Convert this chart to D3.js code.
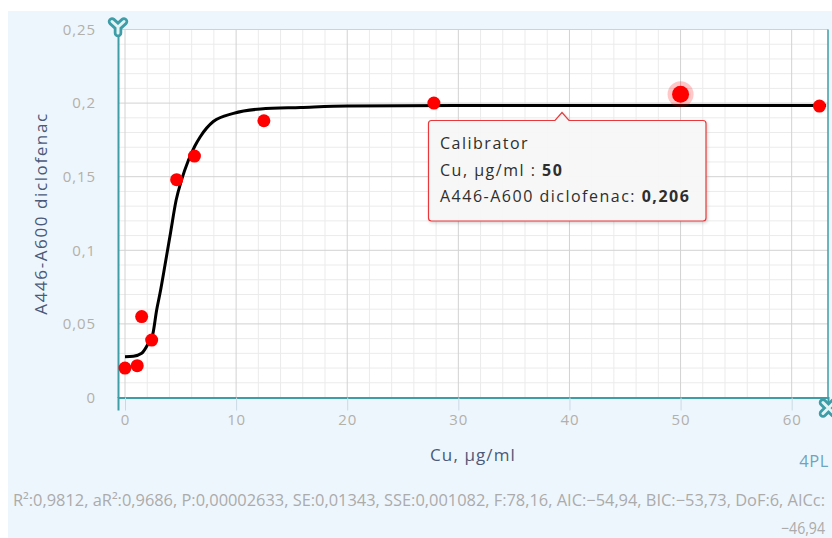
<!DOCTYPE html>
<html>
<head>
<meta charset="utf-8">
<script src="https://cdn.jsdelivr.net/npm/d3@7"></script>
<style>
  body { margin: 0; background: #fff; }
  svg { display: block; }
  text { font-family: "Open Sans", sans-serif; }
</style>
</head>
<body>
<div id="chart"></div>
<script>
// calibrator points
const concentration = [0, 1.1, 1.5, 2.4, 4.65, 6.25, 12.5, 27.8, 50, 62.5];
const absorbance = [0.020, 0.0216, 0.055, 0.039, 0.148, 0.164, 0.188, 0.200, 0.206, 0.198];

// 4PL fitted curve
const fitX = [0, 0.75, 1.5, 2.1, 2.5, 2.85, 3.15, 3.6, 4.1, 4.6, 5.1, 5.7, 6.3, 6.76, 7.95, 9.76, 12.2, 15.8, 20, 30, 45, 63.1];
const fitY = [0.0277, 0.028, 0.030, 0.0368, 0.043, 0.0595, 0.0708, 0.09, 0.112, 0.134, 0.148, 0.161, 0.171, 0.177, 0.1875, 0.193, 0.196, 0.197, 0.198, 0.1983, 0.1983, 0.1983];

const xTicks = [0, 10, 20, 30, 40, 50, 60];
const yTicks = [0, 0.05, 0.1, 0.15, 0.2, 0.25];
const xLabel = "Cu, µg/ml";
const yLabel = "A446-A600 diclofenac";
const modelName = "4PL";
const seriesName = "Calibrator";
const statsLine = "R²:0,9812, aR²:0,9686, P:0,00002633, SE:0,01343, SSE:0,001082, F:78,16, AIC:−54,94, BIC:−53,73, DoF:6, AICc:";
const statsTail = "−46,94";
const hovered = 8;

const width = 832;
const height = 538;
const margin = { top: 29.5, right: 4, bottom: 140.5, left: 118 };
const chartWidth = width - margin.left - margin.right;
const chartHeight = height - margin.top - margin.bottom;
const teal = "#3e9da7";
const comma = v => String(+v.toFixed(3)).replace(".", ",");

const svg = d3.select("#chart").append("svg")
  .attr("width", width)
  .attr("height", height);

svg.append("rect")
  .attr("x", 8).attr("y", 11)
  .attr("width", width - 8).attr("height", height - 11)
  .attr("fill", "#eef6fd");

const g = svg.append("g")
  .attr("transform", `translate(${margin.left},${margin.top})`);

const x = d3.scaleLinear().domain([-0.63, 63.27]).range([0, chartWidth]);
const y = d3.scaleLinear().domain([0, 0.25]).range([chartHeight, 0]);

g.append("rect")
  .attr("width", chartWidth).attr("height", chartHeight)
  .attr("fill", "#fff");

// minor grid
g.append("g").selectAll("line")
  .data(d3.range(2, 63, 2).filter(v => v % 10 !== 0))
  .join("line")
  .attr("x1", d => x(d)).attr("x2", d => x(d))
  .attr("y1", 0).attr("y2", chartHeight)
  .attr("stroke", "#ebebeb");

g.append("g").selectAll("line")
  .data(d3.range(1, 25).filter(v => v % 5 !== 0).map(v => v / 100))
  .join("line")
  .attr("x1", 0).attr("x2", chartWidth)
  .attr("y1", d => y(d)).attr("y2", d => y(d))
  .attr("stroke", "#ebebeb");

// major grid
g.append("g").selectAll("line")
  .data(xTicks)
  .join("line")
  .attr("x1", d => x(d)).attr("x2", d => x(d))
  .attr("y1", 0).attr("y2", chartHeight)
  .attr("stroke", "#d2d2d2");

g.append("g").selectAll("line")
  .data(yTicks)
  .join("line")
  .attr("x1", 0).attr("x2", chartWidth)
  .attr("y1", d => y(d)).attr("y2", d => y(d))
  .attr("stroke", "#d2d2d2");

g.append("line")
  .attr("x1", chartWidth).attr("x2", chartWidth)
  .attr("y1", 0).attr("y2", chartHeight)
  .attr("stroke", teal).attr("stroke-width", 1.5);

// axes
const xAxis = g.append("g")
  .attr("transform", `translate(0,${chartHeight})`)
  .call(d3.axisBottom(x).tickValues(xTicks).tickSize(13).tickPadding(4).tickFormat(comma));
xAxis.select(".domain").attr("stroke", teal).attr("stroke-width", 2);
xAxis.selectAll(".tick line").attr("stroke", "#c9d9e3");

const yAxis = g.append("g")
  .call(d3.axisLeft(y).tickValues(yTicks).tickSize(0).tickPadding(22).tickFormat(comma));
yAxis.select(".domain").attr("stroke", teal).attr("stroke-width", 2);

svg.selectAll(".tick text")
  .attr("fill", "#b3b0aa")
  .attr("font-size", 15)
  .attr("letter-spacing", 0.9)
  .attr("font-family", "'Open Sans', sans-serif");

// axis titles
g.append("text")
  .attr("x", chartWidth / 2)
  .attr("y", chartHeight + 63)
  .attr("text-anchor", "middle")
  .attr("fill", "#4b5a78")
  .attr("font-size", 17)
  .attr("letter-spacing", 1.1)
  .text(xLabel);

g.append("text")
  .attr("transform", "rotate(-90)")
  .attr("x", -chartHeight / 2)
  .attr("y", -71)
  .attr("text-anchor", "middle")
  .attr("fill", "#4b5a78")
  .attr("font-size", 17)
  .attr("letter-spacing", 1.6)
  .text(yLabel);

svg.append("text")
  .attr("x", 829).attr("y", 467)
  .attr("text-anchor", "end")
  .attr("fill", "#6ea5bd")
  .attr("font-size", 16.5)
  .attr("letter-spacing", 0.6)
  .text(modelName);

// fitted curve
const line = d3.line()
  .x((d, i) => x(fitX[i]))
  .y(d => y(d))
  .curve(d3.curveMonotoneX);

g.append("path")
  .datum(fitY)
  .attr("fill", "none")
  .attr("stroke", "#000")
  .attr("stroke-width", 3)
  .attr("d", line);

// points
g.append("circle")
  .attr("cx", x(concentration[hovered]))
  .attr("cy", y(absorbance[hovered]))
  .attr("r", 13)
  .attr("fill", "#ff0000")
  .attr("fill-opacity", 0.22);

g.append("g").selectAll("circle")
  .data(absorbance)
  .join("circle")
  .attr("cx", (d, i) => x(concentration[i]))
  .attr("cy", d => y(d))
  .attr("r", (d, i) => i === hovered ? 8.5 : 6.5)
  .attr("fill", "#ff0000");

// axis icons
function icon(path) {
  svg.append("path").attr("d", path)
    .attr("fill", "none").attr("stroke", teal).attr("stroke-width", 8.5)
    .attr("stroke-linecap", "round").attr("stroke-linejoin", "round");
  svg.append("path").attr("d", path)
    .attr("fill", "none").attr("stroke", "#e4f4f5").attr("stroke-width", 3)
    .attr("stroke-linecap", "round").attr("stroke-linejoin", "round");
}
icon("M112,21.5 L118,27 L124,21.5 M118,27 L118,33");
icon("M823,402.5 L834,413.5 M834,402.5 L823,413.5");

// tooltip
const defs = svg.append("defs");
const shadow = defs.append("filter").attr("id", "shadow")
  .attr("x", "-10%").attr("y", "-10%").attr("width", "130%").attr("height", "140%");
shadow.append("feDropShadow")
  .attr("dx", 1).attr("dy", 1.5).attr("stdDeviation", 1.5)
  .attr("flood-color", "#000").attr("flood-opacity", 0.18);

const tip = { x0: 428.5, x1: 706, y0: 120.5, y1: 221, r: 3, ax: 562 };
const tipPath = d3.path();
tipPath.moveTo(tip.x0 + tip.r, tip.y0);
tipPath.lineTo(tip.ax - 7, tip.y0);
tipPath.lineTo(tip.ax, tip.y0 - 8);
tipPath.lineTo(tip.ax + 7, tip.y0);
tipPath.lineTo(tip.x1 - tip.r, tip.y0);
tipPath.arcTo(tip.x1, tip.y0, tip.x1, tip.y0 + tip.r, tip.r);
tipPath.lineTo(tip.x1, tip.y1 - tip.r);
tipPath.arcTo(tip.x1, tip.y1, tip.x1 - tip.r, tip.y1, tip.r);
tipPath.lineTo(tip.x0 + tip.r, tip.y1);
tipPath.arcTo(tip.x0, tip.y1, tip.x0, tip.y1 - tip.r, tip.r);
tipPath.lineTo(tip.x0, tip.y0 + tip.r);
tipPath.arcTo(tip.x0, tip.y0, tip.x0 + tip.r, tip.y0, tip.r);
tipPath.closePath();

svg.append("path")
  .attr("d", tipPath.toString())
  .attr("fill", "#f8f8f8")
  .attr("fill-opacity", 0.96)
  .attr("stroke", "#e8393a")
  .attr("stroke-width", 1.2)
  .attr("filter", "url(#shadow)");

const tipText = svg.append("text")
  .attr("x", 440)
  .attr("fill", "#2e2e2e")
  .attr("font-size", 16)
  .attr("letter-spacing", 1.5);
tipText.append("tspan").attr("x", 440).attr("y", 149).text(seriesName);
const l2 = tipText.append("tspan").attr("x", 440).attr("y", 176);
l2.append("tspan").text(xLabel + " : ");
l2.append("tspan").attr("font-weight", "bold").text(comma(concentration[hovered]));
const l3 = tipText.append("tspan").attr("x", 440).attr("y", 202);
l3.append("tspan").text(yLabel + ": ");
l3.append("tspan").attr("font-weight", "bold").text(comma(absorbance[hovered]));

// fit statistics
svg.append("text")
  .attr("x", 825).attr("y", 506)
  .attr("text-anchor", "end")
  .attr("fill", "#ababab")
  .attr("font-size", 16)
  .attr("font-family", "'Liberation Sans Narrow', 'Roboto', sans-serif")
  .attr("textLength", 812)
  .attr("lengthAdjust", "spacingAndGlyphs")
  .text(statsLine);

svg.append("text")
  .attr("x", 825).attr("y", 533.5)
  .attr("text-anchor", "end")
  .attr("fill", "#ababab")
  .attr("font-size", 16)
  .attr("font-family", "'Liberation Sans Narrow', 'Roboto', sans-serif")
  .attr("textLength", 44)
  .attr("lengthAdjust", "spacingAndGlyphs")
  .text(statsTail);
</script>
</body>
</html>
